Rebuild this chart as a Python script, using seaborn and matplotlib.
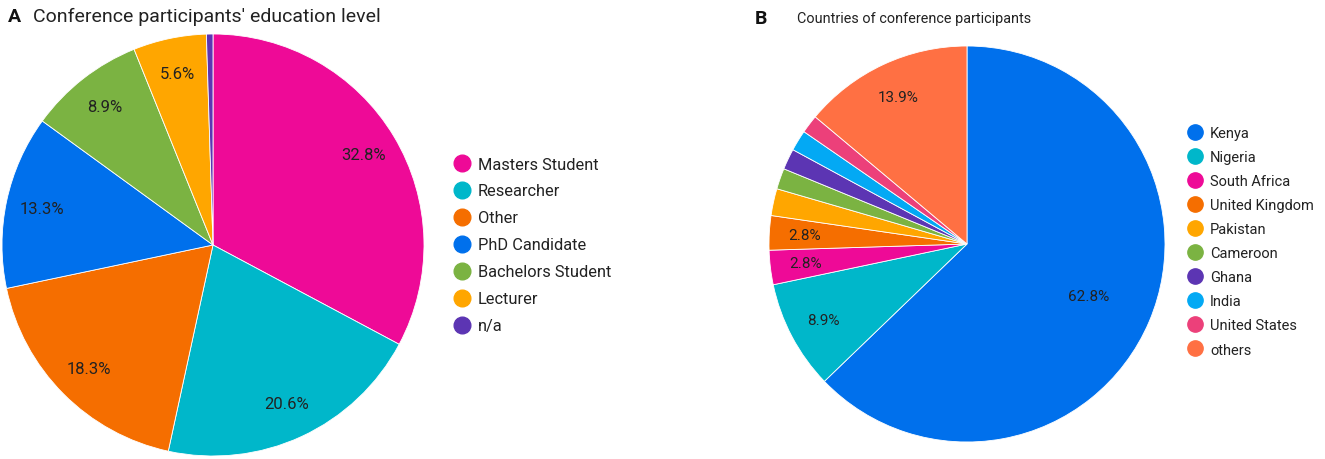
"""Two pie charts: conference participants by education level and by country."""

import matplotlib
matplotlib.use("Agg")
import matplotlib.pyplot as plt
from matplotlib.lines import Line2D
import seaborn as sns

# Panel A: education level
edu_labels = ["Masters Student", "Researcher", "Other", "PhD Candidate",
              "Bachelors Student", "Lecturer", "n/a"]
edu_values = [32.8, 20.6, 18.3, 13.3, 8.9, 5.6, 0.5]
edu_colors = ["#EE0A97", "#00B7CA", "#F56E00", "#0070EC",
              "#7BB342", "#FFA600", "#5C35B3"]

# Panel B: countries
country_labels = ["Kenya", "Nigeria", "South Africa", "United Kingdom", "Pakistan",
                  "Cameroon", "Ghana", "India", "United States", "others"]
country_values = [62.8, 8.9, 2.8, 2.8, 2.2, 1.7, 1.7, 1.7, 1.5, 13.9]
country_colors = ["#0070EC", "#00B7CA", "#EE0A97", "#F56E00", "#FFA600",
                  "#7BB342", "#5C35B3", "#03A9F4", "#EC407A", "#FF7043"]

W, H = 1325, 460


def px_axes(fig, cx, cy, r):
    # axes box (square) around a pie centre given in pixels from top-left
    return fig.add_axes([(cx - r) / W, (H - cy - r) / H, 2 * r / W, 2 * r / H])


def label_fmt(p):
    return f"{p:.1f}%" if p >= 2.5 else ""


def draw_pie(ax, values, colors, pctdist, fontsize):
    wedges, _, autotexts = ax.pie(
        values, colors=sns.color_palette(colors), startangle=90, counterclock=False,
        autopct=label_fmt, pctdistance=pctdist,
        wedgeprops=dict(edgecolor="white", linewidth=0.6),
        textprops=dict(fontsize=fontsize, color="#222222", family="Roboto"),
    )
    ax.set_xlim(-1.0, 1.0)
    ax.set_ylim(-1.0, 1.0)
    ax.set_aspect("equal")
    ax.axis("off")
    return autotexts


def legend_handles(colors, size):
    return [Line2D([], [], marker="o", ls="", markersize=size,
                   markerfacecolor=c, markeredgecolor=c) for c in colors]


def main() -> None:
    sns.set_theme(style="white")
    plt.rcParams["font.family"] = ["Roboto", "DejaVu Sans"]

    fig = plt.figure(figsize=(W / 100, H / 100), dpi=100)

    # --- A ---
    ax_a = px_axes(fig, 213, 246, 211)
    draw_pie(ax_a, edu_values, edu_colors, 0.83, 12)
    fig.text(8 / W, 1 - 17 / H, "A", fontsize=14, fontweight="bold",
             va="center", ha="left", color="#111111")
    fig.text(33 / W, 1 - 17 / H, "Conference participants' education level",
             fontsize=14, va="center", ha="left", color="#222222")
    fig.legend(handles=legend_handles(edu_colors, 12), labels=edu_labels,
               loc="upper left", bbox_to_anchor=(453.8 / W, 1 - 157.5 / H),
               frameon=False, fontsize=11.8, handlelength=1.0, handletextpad=0.48,
               labelspacing=0.73, borderpad=0, borderaxespad=0,
               labelcolor="#222222")

    # --- B ---
    ax_b = px_axes(fig, 967, 245, 198)
    texts = draw_pie(ax_b, country_values, country_colors, 0.82, 11)
    # the big Kenya label sits closer to the centre
    x, y = texts[0].get_position()
    texts[0].set_position((x * 0.67 / 0.82, y * 0.67 / 0.82))
    fig.text(755 / W, 1 - 19 / H, "B", fontsize=14, fontweight="bold",
             va="center", ha="left", color="#111111")
    fig.text(797 / W, 1 - 19 / H, "Countries of conference participants",
             fontsize=10.4, va="center", ha="left", color="#222222")
    fig.legend(handles=legend_handles(country_colors, 11), labels=country_labels,
               loc="upper left", bbox_to_anchor=(1187.7 / W, 1 - 127 / H),
               frameon=False, fontsize=10.5, handlelength=1.0, handletextpad=0.53,
               labelspacing=0.69, borderpad=0, borderaxespad=0,
               labelcolor="#222222")

    fig.savefig("out.png", dpi=100)
    plt.close(fig)


if __name__ == "__main__":
    main()
